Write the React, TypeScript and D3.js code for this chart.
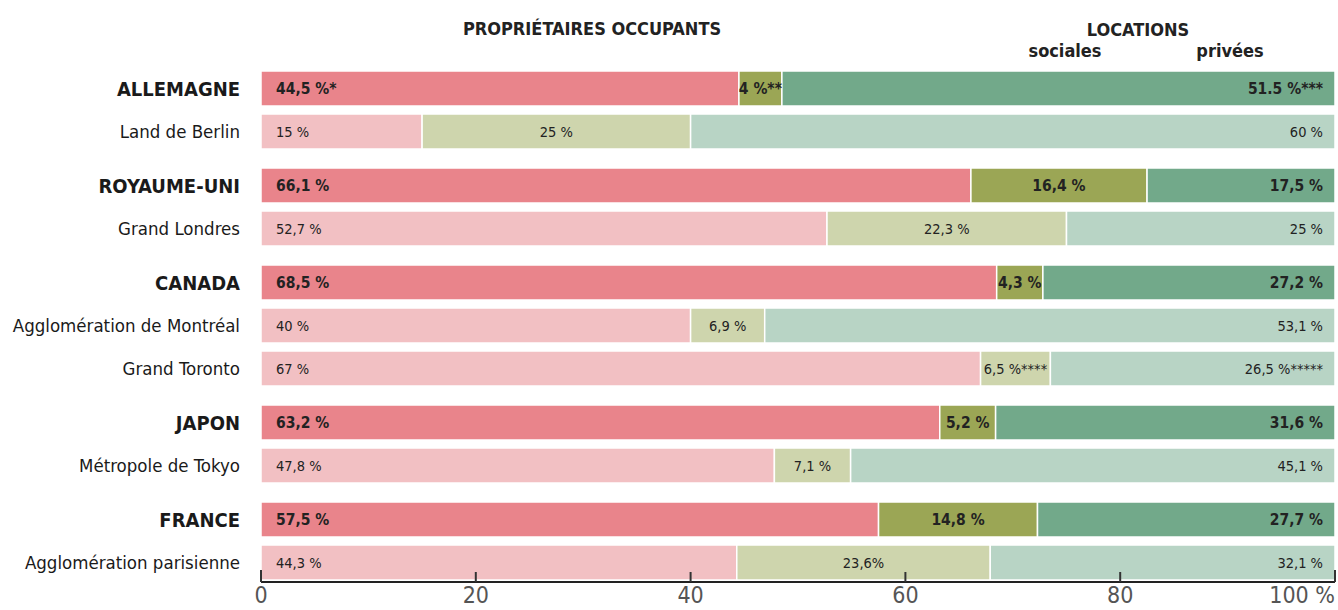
import React from "react";
import * as d3 from "d3";

const rowLabels = [
  "ALLEMAGNE", "Land de Berlin",
  "ROYAUME-UNI", "Grand Londres",
  "CANADA", "Agglomération de Montréal", "Grand Toronto",
  "JAPON", "Métropole de Tokyo",
  "FRANCE", "Agglomération parisienne",
];
const isCountry = [true, false, true, false, true, false, false, true, false, true, false];
const groupIndex = [0, 0, 1, 1, 2, 2, 2, 3, 3, 4, 4];

const owners = [44.5, 15, 66.1, 52.7, 68.5, 40, 67, 63.2, 47.8, 57.5, 44.3];
const socialRent = [4, 25, 16.4, 22.3, 4.3, 6.9, 6.5, 5.2, 7.1, 14.8, 23.6];
const privateRent = [51.5, 60, 17.5, 25, 27.2, 53.1, 26.5, 31.6, 45.1, 27.7, 32.1];

const ownersText = ["44,5 %*", "15 %", "66,1 %", "52,7 %", "68,5 %", "40 %", "67 %", "63,2 %", "47,8 %", "57,5 %", "44,3 %"];
const socialText = ["4 %**", "25 %", "16,4 %", "22,3 %", "4,3 %", "6,9 %", "6,5 %****", "5,2 %", "7,1 %", "14,8 %", "23,6%"];
const privateText = ["51.5 %***", "60 %", "17,5 %", "25 %", "27,2 %", "53,1 %", "26,5 %*****", "31,6 %", "45,1 %", "27,7 %", "32,1 %"];

const xTicks = [0, 20, 40, 60, 80, 100];
const xTickLabels = ["0", "20", "40", "60", "80", "100 %"];

const FONT = "'Liberation Sans Narrow', 'DejaVu Sans Condensed', 'Roboto', sans-serif";

const strongColors = ["#E9848B", "#9BA655", "#72A98A"];
const lightColors = ["#F2C0C3", "#CED5AD", "#B8D4C5"];

export default function App() {
  const W = 1338, H = 610;
  const x = d3.scaleLinear().domain([0, 100]).range([261, 1335]);
  const gapRatio = 11 / 43;
  const y = d3.scaleLinear().domain([0, 10 + 4 * gapRatio]).range([71, 545]);
  const barH = 35;

  const rows = rowLabels.map((label, i) => {
    const vals = [owners[i], socialRent[i], privateRent[i]];
    const texts = [ownersText[i], socialText[i], privateText[i]];
    const top = y(i + groupIndex[i] * gapRatio);
    let cum = 0;
    const segs = vals.map((v, k) => {
      const s = { x0: cum, x1: cum + v, text: texts[k], k };
      cum += v;
      return s;
    });
    return { label, top, segs, strong: isCountry[i] };
  });

  return (
    <svg width={W} height={H} style={{ position: "absolute", left: 0, top: 0, background: "#fff" }} fontFamily={FONT}>
      {/* headers */}
      <text x={592} y={35} textAnchor="middle" fontSize={18} fontWeight="bold" fill="#222">PROPRIÉTAIRES OCCUPANTS</text>
      <text x={1138} y={36} textAnchor="middle" fontSize={18} fontWeight="bold" fill="#222">LOCATIONS</text>
      <text x={1065} y={57} textAnchor="middle" fontSize={18} fontWeight="bold" fill="#222">sociales</text>
      <text x={1230} y={57} textAnchor="middle" fontSize={18} fontWeight="bold" fill="#222">privées</text>

      {rows.map((r, i) => (
        <g key={i}>
          <text
            x={240}
            y={r.top + barH / 2}
            dy="0.36em"
            textAnchor="end"
            fontSize={r.strong ? 20 : 18.5}
            fontWeight={r.strong ? "bold" : "normal"}
            fill="#1a1a1a"
          >
            {r.label}
          </text>
          {r.segs.map((s) => (
            <rect
              key={s.k}
              x={x(s.x0)}
              y={r.top}
              width={x(s.x1) - x(s.x0)}
              height={barH}
              fill={(r.strong ? strongColors : lightColors)[s.k]}
              stroke="#fff"
              strokeWidth={1.5}
            />
          ))}
          {r.segs.map((s) => {
            let tx: number, anchor: string;
            if (s.k === 0) { tx = x(s.x0) + 15; anchor = "start"; }
            else if (s.k === 1) { tx = (x(s.x0) + x(s.x1)) / 2; anchor = "middle"; }
            else { tx = x(100) - 12; anchor = "end"; }
            return (
              <text
                key={"t" + s.k}
                x={tx}
                y={r.top + barH / 2}
                dy="0.36em"
                textAnchor={anchor}
                fontSize={r.strong ? 15.5 : 14.5}
                fontWeight={r.strong ? "bold" : "normal"}
                fill="#222"
              >
                {s.text}
              </text>
            );
          })}
        </g>
      ))}

      {/* axis */}
      <line x1={x(0)} x2={x(100)} y1={582} y2={582} stroke="#222" strokeWidth={2} />
      {xTicks.map((t, i) => (
        <g key={t}>
          <line
            x1={x(t)} x2={x(t)}
            y1={t === 0 || t === 100 ? 570 : 572}
            y2={582}
            stroke="#333"
            strokeWidth={2}
          />
          <text
            x={x(t)}
            y={603}
            textAnchor={t === 100 ? "end" : "middle"}
            fontSize={23}
            fill="#555"
          >
            {xTickLabels[i]}
          </text>
        </g>
      ))}
    </svg>
  );
}
